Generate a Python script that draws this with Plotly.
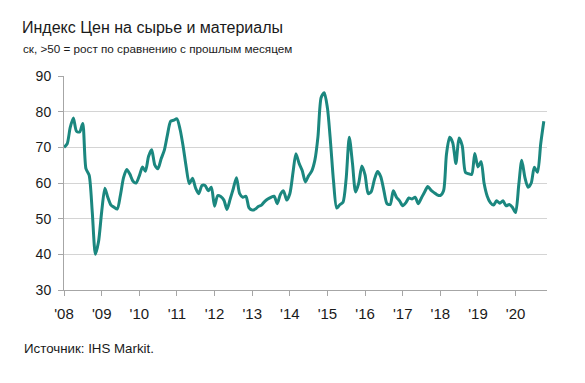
import pandas as pd
import plotly.graph_objects as go

start_month = "2008-01-01"
values_2008 = [70, 71, 75.5, 78.2, 74.5, 74.3, 76.7, 64, 62.2, 52, 40, 43.5]
values_2009 = [52, 58.5, 56, 53.8, 53.2, 52.7, 56.5, 61.5, 63.8, 62.5, 60.5, 60]
values_2010 = [62, 64.5, 63.3, 67.5, 69.3, 65, 64, 66.8, 69.2, 73.5, 77.3, 77.6]
values_2011 = [78, 75, 70.5, 64.5, 59.8, 61.3, 58.6, 57, 59.3, 59.3, 57.8, 58.8]
values_2012 = [53.5, 56.5, 56.2, 55.2, 52.6, 55.5, 58.4, 61.5, 57, 56, 56.3, 53]
values_2013 = [52.4, 52.7, 53.4, 53.8, 54.8, 55.5, 56, 56.3, 54.2, 56.8, 57.8, 55.2]
values_2014 = [57, 63, 68.2, 65.5, 63.5, 60.3, 62, 63.3, 66.4, 73, 84, 85.3]
values_2015 = [81, 71, 60.5, 53, 53.9, 54.6, 61, 72.8, 65.5, 57.5, 60, 64.8]
values_2016 = [62.3, 57, 57.6, 61, 63.2, 61.8, 58, 54.2, 54, 57.8, 56, 55]
values_2017 = [53.6, 54.5, 55.8, 55.5, 56, 54.2, 55.8, 57.5, 59, 58, 57.3, 56.7]
values_2018 = [56.5, 57.8, 68, 72.8, 71.3, 65.5, 72.6, 70.5, 63, 62.6, 62.4, 68.3]
values_2019 = [64.5, 66, 60, 56.3, 54.5, 53.8, 55, 54.3, 55, 53.6, 54, 53.2]
values_2020 = [51.7, 59.5, 66.4, 61.5, 58.8, 60, 64.4, 63, 71, 77.3]

values = (values_2008 + values_2009 + values_2010 + values_2011 + values_2012
          + values_2013 + values_2014 + values_2015 + values_2016 + values_2017
          + values_2018 + values_2019 + values_2020)
months = pd.date_range(start_month, periods=len(values), freq="MS")

tick_years = list(range(2008, 2021))
tick_labels = ["'08", "'09", "'10", "'11", "'12", "'13", "'14", "'15", "'16",
               "'17", "'18", "'19", "'20"]
y_ticks = [30, 40, 50, 60, 70, 80, 90]

title_text = "Индекс Цен на сырье и материалы"
subtitle_text = "ск, >50 = рост по сравнению с прошлым месяцем"
source_text = "Источник: IHS Markit."

FONT = "Liberation Sans, Arial, sans-serif"
TEXT = "#1a1a1a"

# the page body adds an 8px offset; the figure is sized to fill the rest
W, H = 577, 375
PLOT_W, PLOT_H = 483, 214

fig = go.Figure()
fig.add_trace(go.Scatter(
    x=months, y=values, mode="lines",
    line=dict(color="#1b877f", width=3, shape="spline", smoothing=0.7),
    hoverinfo="skip", showlegend=False,
))

fig.update_layout(
    width=W, height=H,
    margin=dict(l=56, r=W - 56 - PLOT_W, t=68, b=H - 68 - PLOT_H, pad=0),
    paper_bgcolor="white", plot_bgcolor="white",
    font=dict(family=FONT, color=TEXT, size=14),
    title=dict(text=title_text, x=14 / W, xanchor="left", xref="container",
               y=1 - 19 / H, yanchor="middle", yref="container",
               font=dict(size=16, color=TEXT, family=FONT)),
    xaxis=dict(
        type="date", range=["2008-01-01", "2020-11-01"],
        tickvals=[f"{y}-01-01" for y in tick_years], ticktext=tick_labels,
        showgrid=False, showline=True, linecolor="#a6a6a6", linewidth=1,
        ticks="outside", ticklen=5, tickcolor="#a6a6a6", tickwidth=1,
        tickfont=dict(size=15, color=TEXT), ticklabelstandoff=5,
        zeroline=False, fixedrange=True, automargin=False,
    ),
    yaxis=dict(
        range=[30, 90], tickvals=y_ticks,
        showgrid=True, gridcolor="#d4d4d4", gridwidth=1.2,
        showline=True, linecolor="#a6a6a6", linewidth=1,
        ticks="outside", ticklen=5, tickcolor="#a6a6a6", tickwidth=1,
        tickfont=dict(size=14, color=TEXT), ticklabelstandoff=4,
        zeroline=False, fixedrange=True, automargin=False,
    ),
    annotations=[
        dict(text=subtitle_text, xref="paper", yref="paper",
             x=(21 - 64) / PLOT_W, y=(290 - 48) / PLOT_H,
             xanchor="left", yanchor="middle",
             showarrow=False, font=dict(size=11.7, color=TEXT, family=FONT)),
        dict(text=source_text, xref="paper", yref="paper",
             x=(22 - 64) / PLOT_W, y=(290 - 348) / PLOT_H,
             xanchor="left", yanchor="middle",
             showarrow=False, font=dict(size=13.3, color=TEXT, family=FONT)),
    ],
)

fig.write_html("out.html")
